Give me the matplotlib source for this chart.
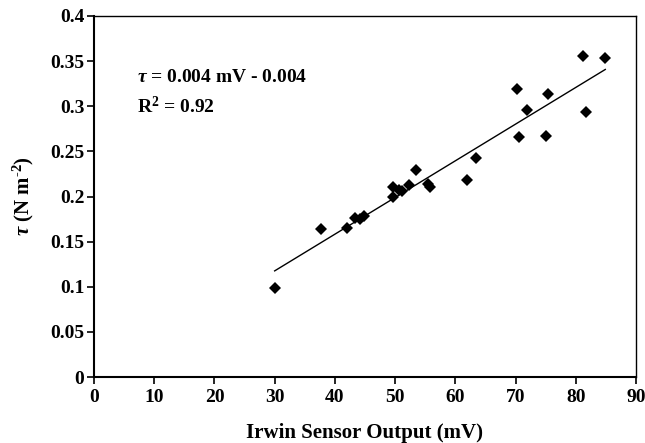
import numpy as np
import matplotlib.pyplot as plt

plt.rcParams['font.family'] = ['Liberation Serif', 'DejaVu Serif']
plt.rcParams['font.weight'] = 'bold'
plt.rcParams['mathtext.fontset'] = 'custom'
plt.rcParams['mathtext.rm'] = 'Liberation Serif:bold'
plt.rcParams['mathtext.it'] = 'Liberation Serif:italic'
plt.rcParams['mathtext.bf'] = 'Liberation Serif:bold'

# Irwin sensor output (mV) vs. bed shear stress (N m-2)
sensor_mv = [30.0, 37.7, 42.0, 43.4, 44.2, 44.9, 49.6, 49.7, 50.7, 51.2,
             52.3, 53.5, 55.4, 55.8, 61.9, 63.5, 70.2, 70.5, 71.9, 75.1,
             75.4, 81.2, 81.7, 84.9]
tau = [0.099, 0.164, 0.165, 0.176, 0.175, 0.178, 0.211, 0.200, 0.207, 0.206,
       0.213, 0.229, 0.214, 0.210, 0.218, 0.243, 0.319, 0.266, 0.296, 0.267,
       0.314, 0.356, 0.294, 0.353]

x = np.array(sensor_mv)
y = np.array(tau)
slope, intercept = np.polyfit(x, y, 1)
xfit = np.array([x.min(), x.max()])

fig = plt.figure(figsize=(6.45, 4.43), dpi=100)
ax = fig.add_axes([94 / 645, 1 - 377 / 443, (636 - 94) / 645, (377 - 16) / 443])

ax.plot(xfit, slope * xfit + intercept, color='black', lw=1.0)
ax.plot(x, y, linestyle='none', marker='D', markersize=6.5,
        color='black', markeredgewidth=0)

ax.set_xlim(0, 90)
ax.set_ylim(0, 0.4)
ax.set_xticks(np.arange(0, 91, 10))
ax.set_yticks(np.arange(0, 0.401, 0.05))
ax.set_yticklabels(['0', '0.05', '0.1', '0.15', '0.2', '0.25', '0.3', '0.35', '0.4'])
ax.tick_params(direction='out', length=5, width=1.2, labelsize=14)
ax.tick_params(axis='x', pad=4)
ax.tick_params(axis='y', pad=2)
for s in ax.spines.values():
    s.set_linewidth(1.0)
ax.spines['left'].set_linewidth(1.5)
ax.spines['bottom'].set_linewidth(1.5)

ax.set_xlabel('Irwin Sensor Output (mV)', fontsize=15, fontweight='bold', labelpad=12)
ax.set_ylabel(r'$\mathit{\tau}$ (N m$^{\text{-2}}$)', fontsize=15, fontweight='bold', labelpad=10)

ax.text(7.1, 0.332, r'$\mathit{\tau}$ = 0.004 mV - 0.004', fontsize=14, fontweight='bold',
        va='center')
ax.text(7.1, 0.300, r'R$^{\text{2}}$ = 0.92', fontsize=14, fontweight='bold', va='center')

fig.savefig('out.png', dpi=100)
